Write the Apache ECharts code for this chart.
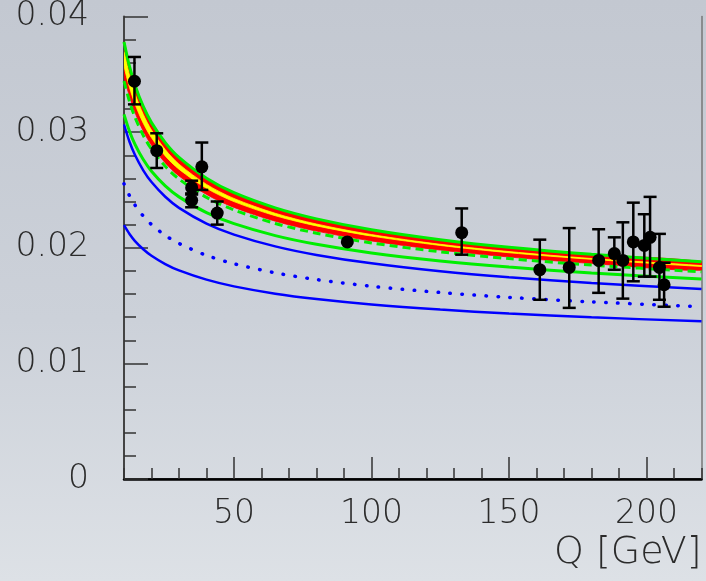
<!DOCTYPE html>
<html>
<head>
<meta charset="utf-8">
<script src="https://cdn.jsdelivr.net/npm/echarts@6/dist/echarts.min.js"></script>
<style>
  html, body { margin: 0; padding: 0; }
  #chart { width: 706px; height: 581px; background: linear-gradient(180deg, #c3c8d1 0%, #ccd1d9 55%, #dde1e6 100%); }
</style>
</head>
<body>
<div id="chart"></div>
<script>
// Q sampling points (GeV) for the theory curves
const qGrid = [10, 12, 14, 17, 20, 25, 30, 40, 50, 65, 80, 100, 125, 150, 180, 220];

// Upper edge of the red band (solid green)
const greenUpper  = [0.03781, 0.03568, 0.03406, 0.03222, 0.03082, 0.02909, 0.02781, 0.02601, 0.02476, 0.02345, 0.02250, 0.02156, 0.02070, 0.02004, 0.01943, 0.01879];
// Lower edge of the red band
const redLower    = [0.03492, 0.03310, 0.03170, 0.03009, 0.02887, 0.02734, 0.02621, 0.02461, 0.02349, 0.02230, 0.02144, 0.02059, 0.01980, 0.01920, 0.01864, 0.01805];
// Inner yellow band
const yellowUpper = [0.03694, 0.03491, 0.03333, 0.03154, 0.03018, 0.02849, 0.02723, 0.02548, 0.02426, 0.02298, 0.02205, 0.02114, 0.02030, 0.01967, 0.01907, 0.01846];
const yellowLower = [0.03579, 0.03387, 0.03243, 0.03077, 0.02951, 0.02794, 0.02679, 0.02514, 0.02399, 0.02277, 0.02189, 0.02101, 0.02020, 0.01957, 0.01900, 0.01838];
// Dashed green curve below the band
const greenDashed = [0.03442, 0.03265, 0.03128, 0.02972, 0.02853, 0.02704, 0.02594, 0.02436, 0.02327, 0.02210, 0.02126, 0.02042, 0.01965, 0.01906, 0.01850, 0.01792];
// Lower solid green curve
const greenLower  = [0.03154, 0.03008, 0.02894, 0.02763, 0.02662, 0.02535, 0.02440, 0.02304, 0.02208, 0.02105, 0.02030, 0.01955, 0.01886, 0.01833, 0.01782, 0.01730];
// Blue curves
const blueUpper   = [0.03066, 0.02917, 0.02802, 0.02670, 0.02568, 0.02441, 0.02345, 0.02209, 0.02114, 0.02012, 0.01938, 0.01865, 0.01797, 0.01745, 0.01695, 0.01644];
const blueDotted  = [0.02553, 0.02450, 0.02369, 0.02274, 0.02201, 0.02107, 0.02037, 0.01934, 0.01862, 0.01783, 0.01725, 0.01667, 0.01613, 0.01571, 0.01532, 0.01490];
const blueLower   = [0.02195, 0.02119, 0.02058, 0.01987, 0.01931, 0.01859, 0.01804, 0.01724, 0.01666, 0.01603, 0.01557, 0.01510, 0.01466, 0.01431, 0.01398, 0.01364];

// Measurements: energy, value, upper and lower end of the error bar
const qData = [13.8, 21.9, 34.6, 34.6, 38.3, 43.9, 91.2, 132.8, 161.2, 171.9, 182.6, 188.3, 191.4, 195.2, 199.2, 201.3, 204.7, 206.4];
const yData = [0.0344, 0.0284, 0.0252, 0.0241, 0.0270, 0.0230, 0.0205, 0.0213, 0.0181, 0.0183, 0.0189, 0.0195, 0.0189, 0.0205, 0.0202, 0.0209, 0.0183, 0.0168];
const yHigh = [0.0365, 0.0299, 0.0258, 0.0247, 0.0291, 0.0240, 0.0205, 0.0234, 0.0207, 0.0217, 0.0216, 0.0209, 0.0222, 0.0239, 0.0229, 0.0244, 0.0212, 0.0187];
const yLow  = [0.0324, 0.0269, 0.0246, 0.0235, 0.0250, 0.0220, 0.0205, 0.0194, 0.0155, 0.0148, 0.0161, 0.0181, 0.0156, 0.0171, 0.0175, 0.0175, 0.0155, 0.0149];

// Axis settings
const xRange = [10, 220];
const yRange = [0, 0.04];
const xMajorTicks = [50, 100, 150, 200];
const xTitle = 'Q [GeV]';

const pairs = (ys) => qGrid.map((q, i) => [q, ys[i]]);

const FONT = 'DejaVu Sans';
const labelStyle = { fontFamily: FONT, fontSize: 33, fontWeight: 200, color: '#2b2b2b' };

function curve(name, ys, lineStyle) {
  return {
    name, type: 'line', data: pairs(ys), smooth: 0.3, symbol: 'none', silent: true, z: 3,
    lineStyle
  };
}

// Filled region between two sampled curves, drawn through the axis scales
function band(name, upper, lower, color, z) {
  return {
    name, type: 'custom', z, silent: true, clip: true,
    data: [[xRange[0], yRange[0]]],
    renderItem: (params, api) => {
      const top = qGrid.map((q, i) => api.coord([q, upper[i]]));
      const bottom = qGrid.map((q, i) => api.coord([q, lower[i]])).reverse();
      return {
        type: 'polygon',
        shape: { points: top.concat(bottom), smooth: 0.3 },
        style: { fill: color, stroke: color, lineWidth: 0.8 }
      };
    }
  };
}

const chart = echarts.init(document.getElementById('chart'), null, { renderer: 'canvas' });

chart.setOption({
  animation: false,
  backgroundColor: 'transparent',
  grid: { left: 124, right: 4.5, top: 13, bottom: 102, containLabel: false },
  xAxis: [
    {
      type: 'value', min: xRange[0], max: xRange[1], interval: 10, position: 'bottom',
      axisLine: { show: true, onZero: false, lineStyle: { color: '#000', width: 2.5 } },
      axisTick: { inside: true, length: 11, lineStyle: { color: '#333', width: 1.5 } },
      axisLabel: Object.assign({ margin: 19, formatter: v => (v % 50 === 0 ? String(v) : '') }, labelStyle),
      splitLine: { show: false },
      name: xTitle, nameLocation: 'end', nameGap: 0,
      nameTextStyle: { fontFamily: FONT, fontSize: 38, fontWeight: 200, color: '#2b2b2b', align: 'right', verticalAlign: 'top', padding: [55, 0, 0, 0] }
    },
    {
      type: 'value', min: xRange[0], max: xRange[1], position: 'bottom',
      axisLine: { show: false },
      axisTick: { inside: true, length: 22, customValues: xMajorTicks, lineStyle: { color: '#333', width: 1.5 } },
      axisLabel: { show: false }, splitLine: { show: false }
    },
    {
      type: 'value', min: xRange[0], max: xRange[1], position: 'top',
      axisLine: { show: true, lineStyle: { color: '#000', width: 1.5 } },
      axisTick: { show: false }, axisLabel: { show: false }, splitLine: { show: false }
    }
  ],
  yAxis: [
    {
      type: 'value', min: yRange[0], max: yRange[1], interval: 0.002, position: 'left',
      axisLine: { show: true, onZero: false, lineStyle: { color: '#444', width: 2 } },
      axisTick: { inside: true, length: 12, lineStyle: { color: '#333', width: 1.5 } },
      axisLabel: Object.assign({
        margin: 35,
        formatter: v => {
          const k = Math.round(v * 1000);
          if (k % 10 !== 0) return '';
          return k === 0 ? '0' : (k / 1000).toFixed(2);
        }
      }, labelStyle),
      splitLine: { show: false }
    },
    {
      type: 'value', min: yRange[0], max: yRange[1], interval: 0.01, position: 'left',
      axisLine: { show: false },
      axisTick: { inside: true, length: 24, lineStyle: { color: '#333', width: 1.5 } },
      axisLabel: { show: false }, splitLine: { show: false }
    },
    {
      type: 'value', min: yRange[0], max: yRange[1], position: 'right',
      axisLine: { show: true, lineStyle: { color: '#777', width: 1.5 } },
      axisTick: { show: false }, axisLabel: { show: false }, splitLine: { show: false }
    }
  ],
  series: [
    band('red band', greenUpper, redLower, '#ff0000', 1),
    band('yellow band', yellowUpper, yellowLower, '#ffff00', 2),
    curve('green upper', greenUpper, { color: '#00ee00', width: 3 }),
    curve('green dashed', greenDashed, { color: '#00ee00', width: 3, type: [8, 5] }),
    curve('green lower', greenLower, { color: '#00ee00', width: 3 }),
    curve('blue upper', blueUpper, { color: '#0000ff', width: 2.5 }),
    curve('blue dotted', blueDotted, { color: '#0000ff', width: 3.5, type: [0.5, 11.5], cap: 'round' }),
    curve('blue lower', blueLower, { color: '#0000ff', width: 2.5 }),
    // error bars
    {
      type: 'custom', z: 5, silent: true,
      data: qData.map((q, i) => [q, yData[i], yHigh[i], yLow[i]]),
      encode: { x: 0, y: [1, 2, 3] },
      renderItem: (params, api) => {
        const q = api.value(0);
        const top = api.coord([q, api.value(2)]);
        const bot = api.coord([q, api.value(3)]);
        if (Math.abs(bot[1] - top[1]) < 1) return null;
        const hw = 6.5;
        const style = { stroke: '#000', lineWidth: 2.5 };
        return {
          type: 'group',
          children: [
            { type: 'line', shape: { x1: top[0], y1: top[1], x2: bot[0], y2: bot[1] }, style },
            { type: 'line', shape: { x1: top[0] - hw, y1: top[1], x2: top[0] + hw, y2: top[1] }, style },
            { type: 'line', shape: { x1: bot[0] - hw, y1: bot[1], x2: bot[0] + hw, y2: bot[1] }, style }
          ]
        };
      }
    },
    {
      type: 'scatter', z: 6, silent: true, symbol: 'circle', symbolSize: 13,
      itemStyle: { color: '#000', opacity: 1 },
      data: qData.map((q, i) => [q, yData[i]])
    }
  ]
});
</script>
</body>
</html>
